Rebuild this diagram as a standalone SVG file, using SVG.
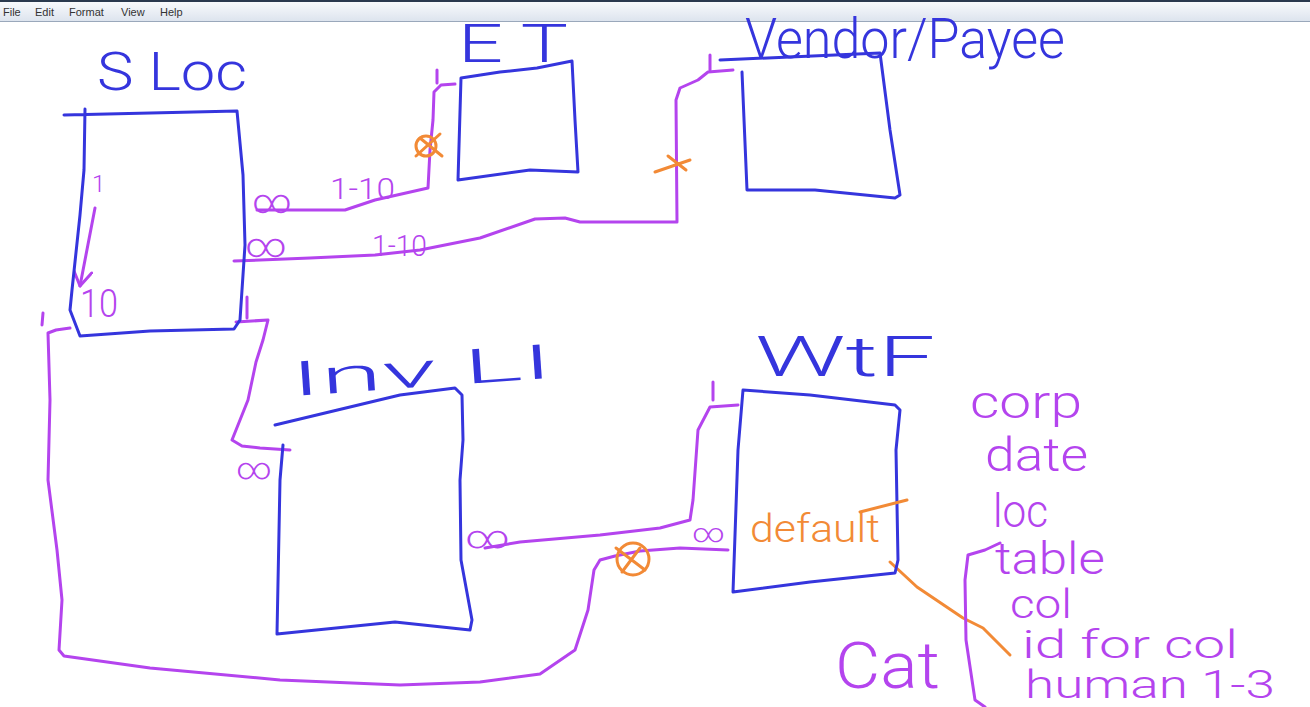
<svg xmlns="http://www.w3.org/2000/svg" width="1310" height="707" viewBox="0 0 1310 707">
<defs>
<linearGradient id="menu" x1="0" y1="0" x2="0" y2="1">
<stop offset="0" stop-color="#fbfcfe"/>
<stop offset="1" stop-color="#dde4ee"/>
</linearGradient>
<marker id="arr" viewBox="0 0 20 20" refX="18" refY="10" markerWidth="20" markerHeight="20" markerUnits="userSpaceOnUse" orient="auto">
<path d="M3,1 L18,10 L4,19" fill="none" stroke="#b444ee" stroke-width="3" stroke-linecap="round" stroke-linejoin="round"/>
</marker>
</defs>
<style>
.box{fill:none;stroke:#3535dd;stroke-width:3;stroke-linejoin:round;stroke-linecap:round}
.con{fill:none;stroke:#b444ee;stroke-width:3;stroke-linejoin:round;stroke-linecap:round}
.orl{fill:none;stroke:#f28a36;stroke-width:3;stroke-linecap:round;stroke-linejoin:round}
.title{font-family:Roboto,"Liberation Sans",Arial,sans-serif;font-weight:300;fill:#3535dd}
.mag{font-family:Roboto,"Liberation Sans",Arial,sans-serif;font-weight:300;fill:#b444ee}
.org{font-family:Roboto,"Liberation Sans",Arial,sans-serif;font-weight:300;fill:#f28a36}
.menu{font-family:"Liberation Sans",Arial,sans-serif;font-size:11px;fill:#333}
</style>
<rect x="0" y="0" width="1310" height="707" fill="#ffffff"/>
<g id="menubar">
<rect x="0" y="0" width="1310" height="21" fill="url(#menu)"/>
<line x1="0" y1="1" x2="1310" y2="1" stroke="#2b3a4f" stroke-width="2"/>
<line x1="0" y1="21.5" x2="1310" y2="21.5" stroke="#9aa8bb" stroke-width="1"/>
<text class="menu" x="3" y="16">File</text>
<text class="menu" x="35" y="16">Edit</text>
<text class="menu" x="69" y="16">Format</text>
<text class="menu" x="121" y="16">View</text>
<text class="menu" x="160" y="16">Help</text>
</g>
<g id="connectors">
<path class="con" d="M257,210 L345,210 L375,200 L428,188 L430,150 L433,120 L434,92 L441,85 L455,84"/>
<path class="con" d="M234,261 L310,258 L375,255 L420,250 L480,238 L535,219 L565,218 L580,222 L677,222 L676,100 L680,88 L698,80 L708,72 L733,70"/>
<path class="con" d="M236,322 L268,320 L263,340 L256,362 L248,400 L232,440 L242,446 L260,448 L290,450"/>
<path class="con" d="M70,328 L56,330 L48,333 L50,400 L48,480 L57,550 L62,600 L59,650 L64,656 L150,668 L280,680 L400,685 L480,682 L540,674 L575,650 L588,610 L594,570 L600,560 L615,556 L640,551 L680,548 L728,550"/>
<path class="con" d="M485,548 L520,542 L600,535 L660,528 L690,520 L693,500 L698,430 L710,407 L738,405"/>
<path class="con" d="M95,208 L80,286" marker-end="url(#arr)"/>
<path class="con" d="M437,70 L437,83 M710,55 L710,70 M713,382 L713,400 M247,297 L247,318 M43,313 L42,325"/>
<text class="mag" x="92" y="192" font-size="24">1</text>
<text class="mag" x="80" y="317" font-size="38" textLength="38" lengthAdjust="spacingAndGlyphs">10</text>
<text class="mag" x="252" y="213" font-size="34" textLength="40" lengthAdjust="spacingAndGlyphs">∞</text>
<text class="mag" x="245" y="257" font-size="34" textLength="42" lengthAdjust="spacingAndGlyphs">∞</text>
<text class="mag" x="236" y="479" font-size="30" textLength="36" lengthAdjust="spacingAndGlyphs">∞</text>
<text class="mag" x="465" y="548" font-size="32" textLength="45" lengthAdjust="spacingAndGlyphs">∞</text>
<text class="mag" x="692" y="542" font-size="26" textLength="33" lengthAdjust="spacingAndGlyphs">∞</text>
<text class="mag" x="330" y="199" font-size="30" textLength="65" lengthAdjust="spacingAndGlyphs">1-10</text>
<text class="mag" x="372" y="256" font-size="30" textLength="55" lengthAdjust="spacingAndGlyphs">1-10</text>
<circle class="orl" cx="426" cy="146" r="10"/>
<path class="orl" d="M416,156 L440,134 M420,138 L442,156"/>
<path class="orl" d="M655,172 L690,160 M668,156 L686,170"/>
<circle class="orl" cx="633" cy="559" r="16"/>
<path class="orl" d="M616,548 L645,570 M640,548 L622,572"/>
<path class="orl" d="M890,562 L917,587 L963,618 L983,628 L1010,655"/>
</g>
<g id="sloc">
<text class="title" x="97" y="90" font-size="54" textLength="150" lengthAdjust="spacingAndGlyphs">S Loc</text>
<path class="box" d="M64,115 L237,111 L243,175 L245,245 L240,320 L234,329 L150,331 L80,336 L70,310 L72,290 L80,215 L84,170 L85,109"/>
</g>
<g id="et">
<text class="title" x="458" y="62" font-size="54" textLength="110" lengthAdjust="spacingAndGlyphs">E T</text>
<path class="box" d="M461,78 L500,72 L537,68 L572,61 L575,120 L578,172 L530,170 L458,180 Z"/>
</g>
<g id="vendor">
<text class="title" x="745" y="58" font-size="56" textLength="320" lengthAdjust="spacingAndGlyphs">Vendor/Payee</text>
<path class="box" d="M720,60 L880,53 L890,130 L900,195 L895,198 L815,190 L747,190 L742,72"/>
</g>
<g id="invli">
<text class="title" x="292" y="396" font-size="48" textLength="262" lengthAdjust="spacingAndGlyphs" transform="rotate(-4 292 396)">Inv LI</text>
<path class="box" d="M275,425 L400,395 L455,388 L462,395 L463,440 L460,480 L461,560 L472,620 L470,630 L395,622 L277,634 L280,480 L283,445"/>
</g>
<g id="wtf">
<text class="title" x="755" y="376" font-size="56" textLength="180" lengthAdjust="spacingAndGlyphs">WtF</text>
<path class="box" d="M743,390 L810,395 L895,405 L900,410 L896,450 L898,560 L895,573 L810,582 L733,592 L738,450 Z"/>
<text class="org" x="750" y="542" font-size="38" textLength="130" lengthAdjust="spacingAndGlyphs">default</text>
<path class="orl" d="M860,512 L907,500"/>
</g>
<g id="cat">
<text class="mag" x="835" y="688" font-size="64" textLength="105" lengthAdjust="spacingAndGlyphs">Cat</text>
<path class="con" d="M1000,543 L985,550 L968,555 L965,580 L966,640 L975,700 L985,707"/>
<text class="mag" x="970" y="418" font-size="46" textLength="112" lengthAdjust="spacingAndGlyphs">corp</text>
<text class="mag" x="985" y="471" font-size="46" textLength="103" lengthAdjust="spacingAndGlyphs">date</text>
<text class="mag" x="993" y="527" font-size="46" textLength="55" lengthAdjust="spacingAndGlyphs">loc</text>
<text class="mag" x="995" y="574" font-size="44" textLength="110" lengthAdjust="spacingAndGlyphs">table</text>
<text class="mag" x="1010" y="618" font-size="40" textLength="62" lengthAdjust="spacingAndGlyphs">col</text>
<text class="mag" x="1022" y="658" font-size="38" textLength="216" lengthAdjust="spacingAndGlyphs">id for col</text>
<text class="mag" x="1025" y="698" font-size="38" textLength="250" lengthAdjust="spacingAndGlyphs">human 1-3</text>
</g>
</svg>
